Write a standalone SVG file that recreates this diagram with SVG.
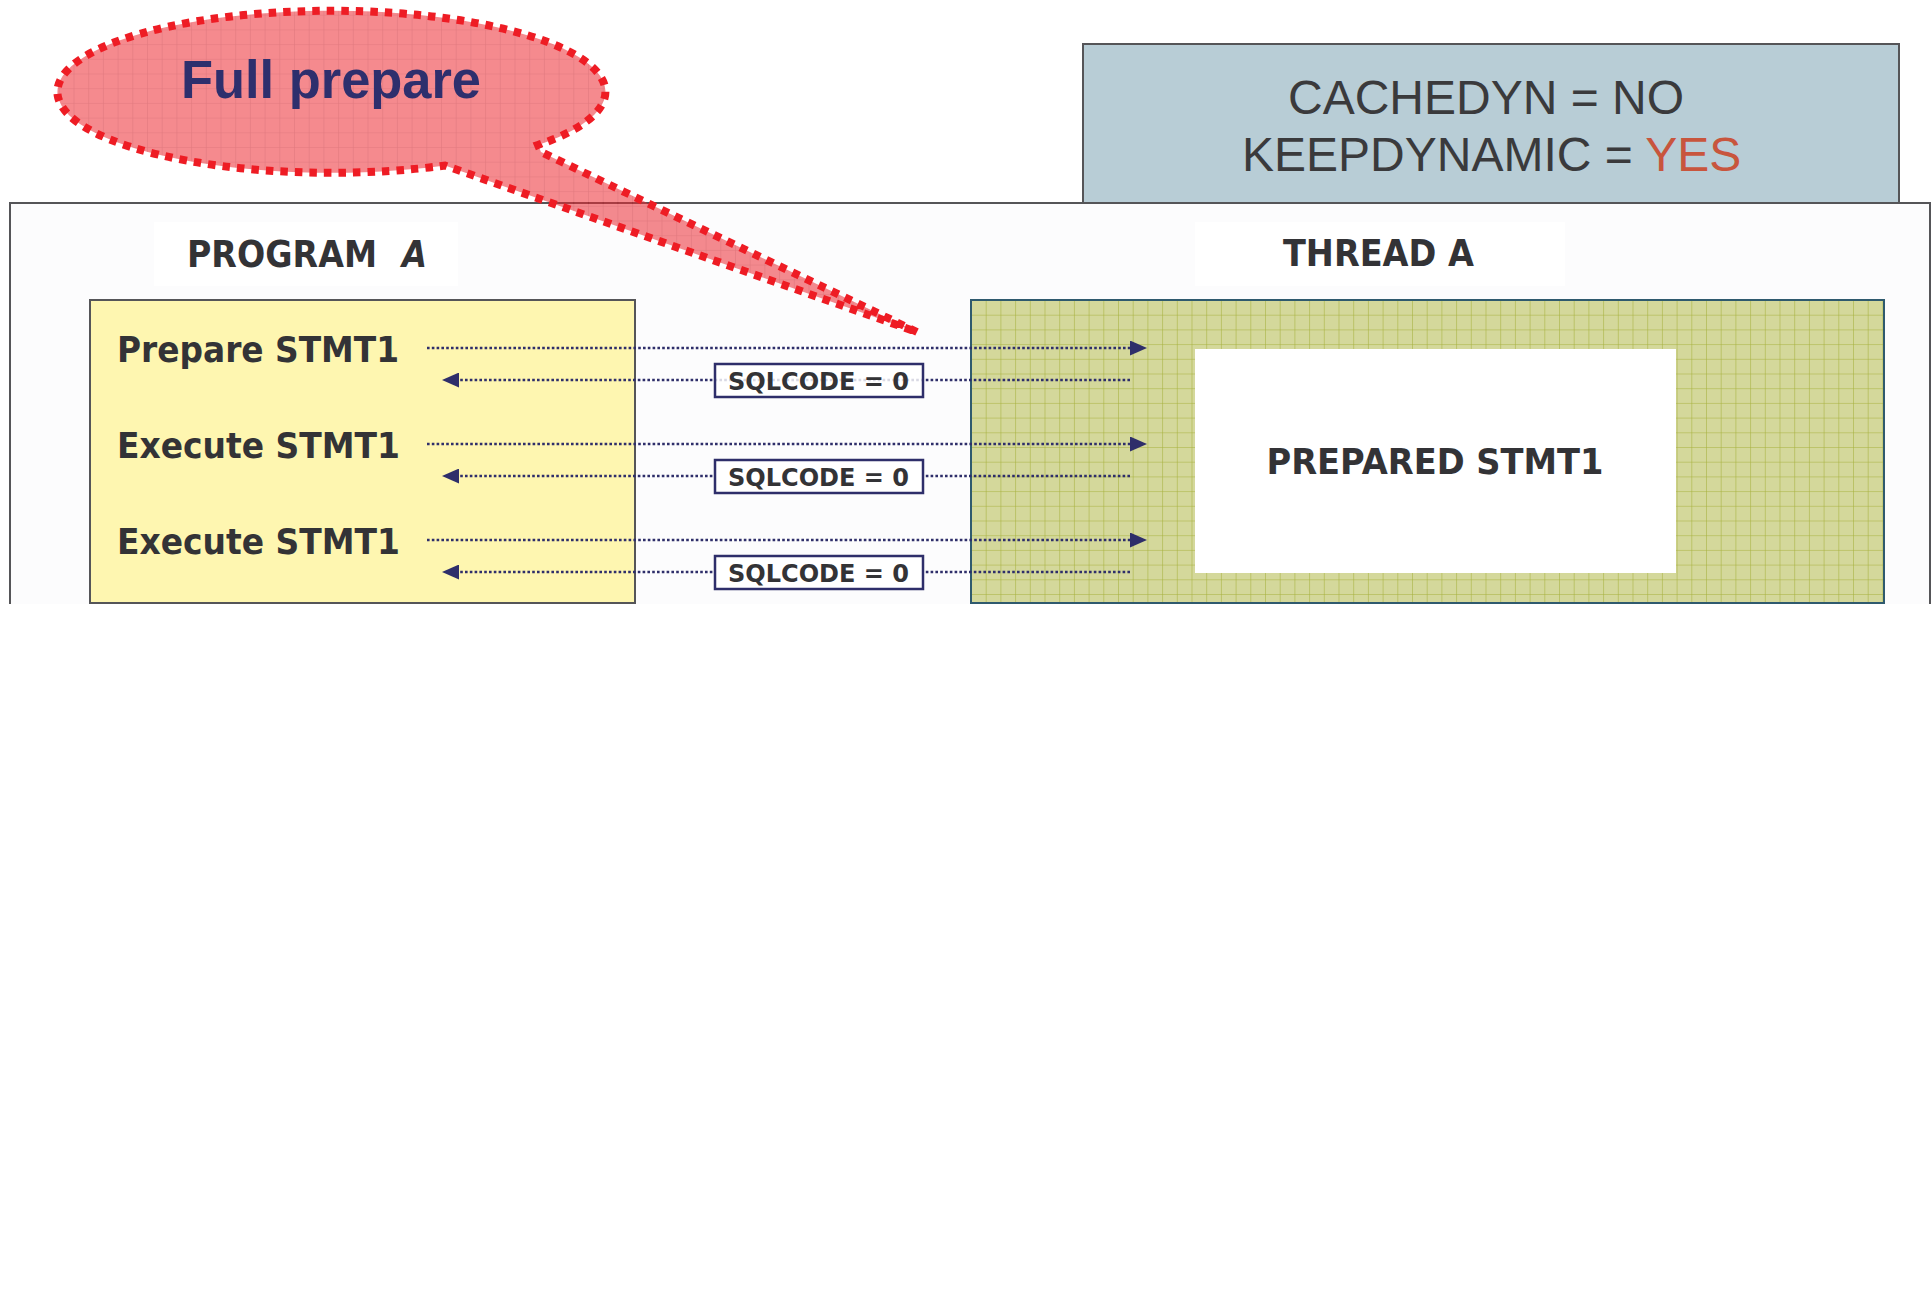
<svg xmlns="http://www.w3.org/2000/svg" width="1932" height="1306" viewBox="0 0 1932 1306">
<style>
.lbl{font-family:"DejaVu Sans","Verdana",sans-serif;font-weight:bold;fill:#333336}
.big{font-size:36px}
.hdr{font-size:37px}
.sql{font-size:25px}
.cfg{font-family:"Liberation Sans",Arial,sans-serif;font-size:48px;fill:#3a3a3c}
.conn{stroke:#2e2e6a;stroke-width:2.6;stroke-dasharray:2.6 2.2;fill:none}
.sqlbox{fill:#ffffff;stroke:#2e2e6a;stroke-width:2.5}
</style>
<defs>
<clipPath id="cut"><rect x="0" y="0" width="1932" height="604"/></clipPath>
<pattern id="greenGrid" x="971" y="300" width="14.7" height="14.7" patternUnits="userSpaceOnUse">
<rect width="14.7" height="14.7" fill="#d4d89b"/>
<path d="M0,0 H14.7 M0,0 V14.7" stroke="#a6b13c" stroke-width="1.1"/>
</pattern>
<pattern id="redGrid" x="0" y="0" width="14.7" height="14.7" patternUnits="userSpaceOnUse">
<rect width="14.7" height="14.7" fill="#ec2a32"/>
<path d="M0,0 H14.7 M0,0 V14.7" stroke="#c80a14" stroke-width="1.2"/>
</pattern>
<marker id="ah" viewBox="0 0 17 15" refX="0" refY="7.5" markerWidth="17" markerHeight="15" markerUnits="userSpaceOnUse" orient="auto">
<path d="M0,0 L17,7.5 L0,15 z" fill="#2e2e6a"/>
</marker>
</defs>
<rect width="1932" height="1306" fill="#ffffff"/>

<g id="config">
<rect x="1083" y="44" width="816" height="159" fill="#b8cdd6" stroke="#555558" stroke-width="2"/>
<text class="cfg" x="1288" y="114">CACHEDYN = NO</text>
<text class="cfg" x="1242" y="171">KEEPDYNAMIC = <tspan fill="#c8553d">YES</tspan></text>
</g>

<g clip-path="url(#cut)">
<g id="frame">
<rect x="10" y="203" width="1920" height="500" fill="#fcfcfd" stroke="#555558" stroke-width="2"/>
<rect x="154" y="222" width="304" height="64" fill="#ffffff"/>
<rect x="1195" y="222" width="370" height="64" fill="#ffffff"/>
<text class="lbl hdr" x="187" y="267"><tspan textLength="190" lengthAdjust="spacingAndGlyphs">PROGRAM</tspan></text>
<text class="lbl hdr" x="402" y="267" font-style="italic" textLength="25" lengthAdjust="spacingAndGlyphs">A</text>
<text class="lbl hdr" x="1283" y="266" textLength="191" lengthAdjust="spacingAndGlyphs">THREAD A</text>
</g>

<g id="programA">
<rect x="90" y="300" width="545" height="303" fill="#fef6b0" stroke="#555558" stroke-width="2"/>
<text class="lbl big" x="117" y="362" textLength="282" lengthAdjust="spacingAndGlyphs">Prepare STMT1</text>
<text class="lbl big" x="117" y="458" textLength="283" lengthAdjust="spacingAndGlyphs">Execute STMT1</text>
<text class="lbl big" x="117" y="554" textLength="283" lengthAdjust="spacingAndGlyphs">Execute STMT1</text>
</g>

<g id="threadA">
<rect x="971" y="300" width="913" height="303" fill="url(#greenGrid)" stroke="#2f5a6e" stroke-width="2"/>
</g>

<g id="preparedStmt">
<rect x="1195" y="349" width="481" height="224" fill="#ffffff"/>
<text class="lbl big" x="1435" y="474" text-anchor="middle" textLength="337" lengthAdjust="spacingAndGlyphs">PREPARED STMT1</text>
</g>

<g id="connectors">
<line class="conn" x1="427" y1="348" x2="1130" y2="348" marker-end="url(#ah)"/>
<line class="conn" x1="1130" y1="380" x2="459" y2="380" marker-end="url(#ah)"/>
<line class="conn" x1="427" y1="444" x2="1130" y2="444" marker-end="url(#ah)"/>
<line class="conn" x1="1130" y1="476" x2="459" y2="476" marker-end="url(#ah)"/>
<line class="conn" x1="427" y1="540" x2="1130" y2="540" marker-end="url(#ah)"/>
<line class="conn" x1="1130" y1="572" x2="459" y2="572" marker-end="url(#ah)"/>
</g>

<g id="sqlcode1">
<rect class="sqlbox" x="715" y="364" width="208" height="33" fill-opacity="0.82"/>
<text class="lbl sql" x="728" y="390" textLength="181" lengthAdjust="spacingAndGlyphs">SQLCODE = 0</text>
</g>
<g id="sqlcode2">
<rect class="sqlbox" x="715" y="460" width="208" height="33"/>
<text class="lbl sql" x="728" y="486" textLength="181" lengthAdjust="spacingAndGlyphs">SQLCODE = 0</text>
</g>
<g id="sqlcode3">
<rect class="sqlbox" x="715" y="556" width="208" height="33"/>
<text class="lbl sql" x="728" y="582" textLength="181" lengthAdjust="spacingAndGlyphs">SQLCODE = 0</text>
</g>
</g>

<g id="callout">
<path d="M917,332 L541,152 L538,145 A274 81 0 1 0 445,165.5 Z" fill="url(#redGrid)" fill-opacity="0.55" stroke="#ee1c24" stroke-width="8" stroke-dasharray="7.5 7" stroke-linejoin="miter"/>
<text x="181" y="98" font-family="'Liberation Sans',Arial,sans-serif" font-weight="bold" font-size="53" fill="#2e2f6d" textLength="300" lengthAdjust="spacingAndGlyphs">Full prepare</text>
</g>
</svg>
